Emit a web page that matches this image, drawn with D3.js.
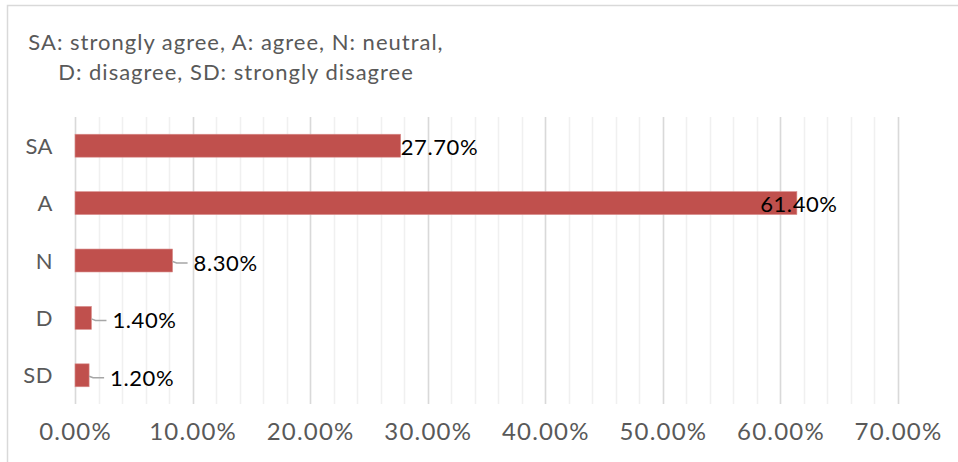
<!DOCTYPE html>
<html>
<head>
<meta charset="utf-8">
<script src="https://cdn.jsdelivr.net/npm/d3@7"></script>
<style>
  body { margin: 0; background: #fff; }
  text { font-family: Lato, "Open Sans", sans-serif; }
</style>
</head>
<body>
<div id="chart"></div>
<script>
let categories = ["SA", "A", "N", "D", "SD"];
let values = [0.277, 0.614, 0.083, 0.014, 0.012];
let xTicks = [0, 0.1, 0.2, 0.3, 0.4, 0.5, 0.6, 0.7];
let titleLines = [
  "SA: strongly agree, A: agree, N: neutral,",
  "D: disagree, SD: strongly disagree"
];

let w = 958;
let h = 462;
let padLeft = 75;
let padRight = 898;
let padTop = 117;
let padBottom = 404;

let svg = d3
  .select("#chart")
  .append("svg")
  .attr("width", w)
  .attr("height", h);

// chart frame (runs off the right/bottom of the picture)
svg
  .append("rect")
  .attr("x", 7.5)
  .attr("y", 5.5)
  .attr("width", w + 20)
  .attr("height", h + 20)
  .attr("fill", "#fff")
  .attr("stroke", "#d9d9d9")
  .attr("stroke-width", 1.5);

let x = d3.scaleLinear().domain([0, 0.7]).range([padLeft, padRight]);
let y = d3
  .scaleBand()
  .domain(categories)
  .range([padTop, padBottom])
  .paddingInner(0.6)
  .paddingOuter(0.3);

// minor grid every 2%
let minor = d3.range(0, 0.7001, 0.02);
svg
  .append("g")
  .selectAll("line")
  .data(minor)
  .enter()
  .append("line")
  .attr("x1", d => Math.round(x(d)) + 0.5)
  .attr("x2", d => Math.round(x(d)) + 0.5)
  .attr("y1", padTop)
  .attr("y2", padBottom)
  .attr("stroke", "#f0f0f0")
  .attr("stroke-width", 1.5);

// major grid
svg
  .append("g")
  .selectAll("line")
  .data(xTicks)
  .enter()
  .append("line")
  .attr("x1", d => Math.round(x(d)) + 0.5)
  .attr("x2", d => Math.round(x(d)) + 0.5)
  .attr("y1", padTop)
  .attr("y2", padBottom)
  .attr("stroke", "#d9d9d9")
  .attr("stroke-width", 1.5);

// x axis labels
let xAxis = d3
  .axisBottom(x)
  .tickValues(xTicks)
  .tickSize(0)
  .tickPadding(0)
  .tickFormat(d3.format(".2%"));

let ax = svg
  .append("g")
  .attr("transform", "translate(0," + 423 + ")")
  .call(xAxis);
ax.select(".domain").remove();
ax.selectAll("text")
  .attr("fill", "#595959")
  .attr("font-size", 24)
  .attr("letter-spacing", 1.2)
  .attr("font-family", "Lato, sans-serif");

// category labels
svg
  .append("g")
  .selectAll("text")
  .data(categories)
  .enter()
  .append("text")
  .text(d => d)
  .attr("x", 53)
  .attr("y", d => y(d) + y.bandwidth() / 2 + 8)
  .attr("text-anchor", "end")
  .attr("font-size", 22)
  .attr("letter-spacing", 0.5)
  .attr("fill", "#595959");

// bars
svg
  .append("g")
  .selectAll("rect")
  .data(values)
  .enter()
  .append("rect")
  .attr("x", x(0))
  .attr("y", (d, i) => y(categories[i]))
  .attr("width", d => x(d) - x(0))
  .attr("height", y.bandwidth())
  .attr("fill", "#c0504d")
  .attr("stroke", "#d98f8d")
  .attr("stroke-width", 0.6);

// data labels: long bars get label at end, short ones get a leader line
let fmt = d3.format(".2%");
let labels = svg.append("g");
values.forEach(function(v, i) {
  let cy = y(categories[i]) + y.bandwidth() / 2;
  let xe = x(v);
  if (v < 0.1) {
    labels
      .append("path")
      .attr("d", "M" + xe + "," + (cy + 1) + " L" + (xe + 4) + "," + (cy + 2.5) + " L" + (xe + 15) + "," + (cy + 2.5))
      .attr("fill", "none")
      .attr("stroke", "#a6a6a6")
      .attr("stroke-width", 1.5);
    labels
      .append("text")
      .text(fmt(v))
      .attr("x", xe + 21)
      .attr("y", cy + 10.5)
      .attr("font-size", 22)
      .attr("letter-spacing", 0.6)
      .attr("fill", "#000");
  } else {
    let t = labels
      .append("text")
      .text(fmt(v))
      .attr("y", cy + 9)
      .attr("font-size", 22)
      .attr("letter-spacing", 0.6)
      .attr("fill", "#000");
    if (v > 0.5) {
      t.attr("x", xe + 2).attr("text-anchor", "middle");
    } else {
      t.attr("x", xe).attr("text-anchor", "start");
    }
  }
});

// title
svg
  .append("g")
  .selectAll("text")
  .data(titleLines)
  .enter()
  .append("text")
  .text(d => d)
  .attr("x", 236)
  .attr("y", (d, i) => 50 + i * 30)
  .attr("text-anchor", "middle")
  .attr("font-size", 22)
  .attr("letter-spacing", 1)
  .attr("fill", "#595959");
</script>
</body>
</html>
